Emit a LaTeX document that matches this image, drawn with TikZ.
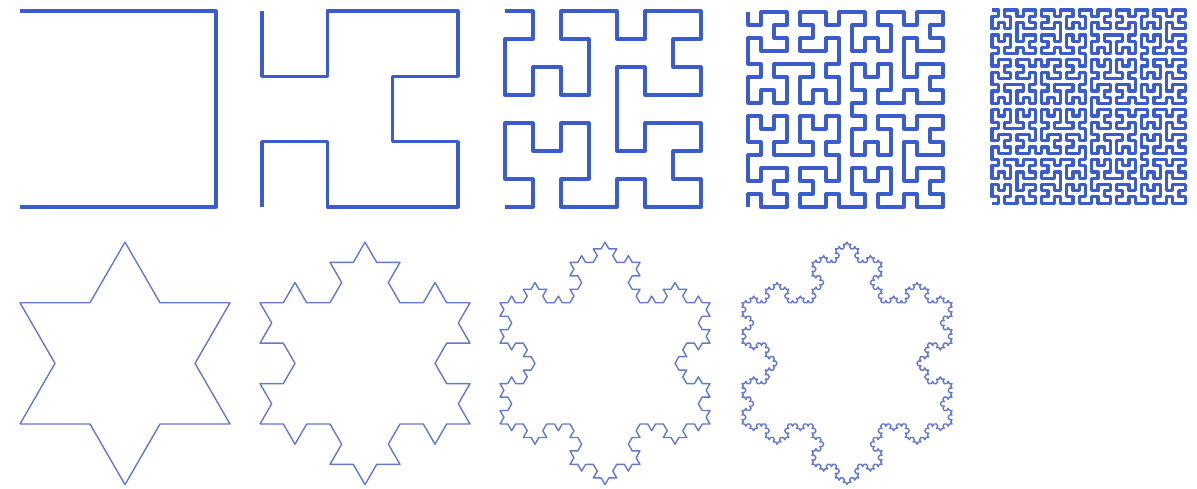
\documentclass[tikz,border=0pt]{standalone}
\usetikzlibrary{lindenmayersystems}
\pgfdeclarelindenmayersystem{Hilbert curve}{
  \rule{A -> +BF-AFA-FB+}
  \rule{B -> -AF+BFB+FA-}}
\pgfdeclarelindenmayersystem{Koch snowflake}{
  \rule{F -> F-F++F-F}}
\definecolor{hilbB}{RGB}{58,92,205}
\definecolor{kochB}{RGB}{100,120,205}
\tikzset{
  hilb/.style={hilbB, line width=3.2pt, line join=round},
  koch/.style={kochB, line width=1.4pt, line join=round},
}

\begin{document}
\begin{tikzpicture}[x=1pt, y=1pt]
  \useasboundingbox (0,0) rectangle (1197,488);
  % top row: Hilbert curves, orders 1 to 5
  \draw[hilb, shift={(20,477)}]
    [l-system={Hilbert curve, axiom=-A, order=1, step=196pt, angle=90}] lindenmayer system;
  \draw[hilb, shift={(262,477)}]
    [l-system={Hilbert curve, axiom=-A, order=2, step=65.33pt, angle=90}] lindenmayer system;
  \draw[hilb, shift={(505,477)}]
    [l-system={Hilbert curve, axiom=-A, order=3, step=28.0pt, angle=90}] lindenmayer system;
  \draw[hilb, shift={(748,476)}]
    [l-system={Hilbert curve, axiom=-A, order=4, step=13.0pt, angle=90}] lindenmayer system;
  \draw[hilb, shift={(992,478)}]
    [l-system={Hilbert curve, axiom=-A, order=5, step=6.23pt, angle=90}] lindenmayer system;
  % bottom row: Koch snowflakes, iterations 1 to 4
  \draw[koch, shift={(20,64)}]
    [l-system={Koch snowflake, axiom=F++F++F, order=1, step=70pt, angle=60}] lindenmayer system;
  \draw[koch, shift={(260,64)}]
    [l-system={Koch snowflake, axiom=F++F++F, order=2, step=23.333pt, angle=60}] lindenmayer system;
  \draw[koch, shift={(500,64)}]
    [l-system={Koch snowflake, axiom=F++F++F, order=3, step=7.7778pt, angle=60}] lindenmayer system;
  \draw[koch, shift={(742,64)}]
    [l-system={Koch snowflake, axiom=F++F++F, order=4, step=2.5926pt, angle=60}] lindenmayer system;
\end{tikzpicture}
\end{document}
